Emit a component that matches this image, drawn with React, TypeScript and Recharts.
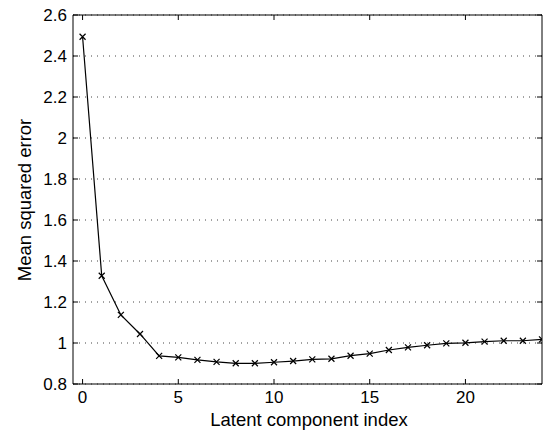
import React from "react";
import { LineChart, Line, XAxis, YAxis, CartesianGrid, Label } from "recharts";

const componentIndex = [0, 1, 2, 3, 4, 5, 6, 7, 8, 9, 10, 11, 12, 13, 14, 15, 16, 17, 18, 19, 20, 21, 22, 23, 24];
const meanSquaredError = [
  2.494, 1.328, 1.137, 1.044, 0.937, 0.93, 0.918, 0.908, 0.901, 0.901, 0.906, 0.912, 0.92, 0.923, 0.938,
  0.948, 0.966, 0.979, 0.989, 0.998, 1.001, 1.007, 1.011, 1.011, 1.018,
];
const xTicks = [0, 5, 10, 15, 20];
const yTicks = [0.8, 1, 1.2, 1.4, 1.6, 1.8, 2, 2.2, 2.4, 2.6];

const data = componentIndex.map((x, i) => ({ x, mse: meanSquaredError[i] }));

const font = "'Liberation Sans', Arial, Helvetica, sans-serif";
const tickStyle = { fill: "#000", fontSize: 17, fontFamily: font };

const CrossDot = (props: any) => {
  const { cx, cy, index } = props;
  if (cx == null || cy == null) return null;
  const s = 3;
  return (
    <path
      key={`dot-${index}`}
      d={`M${cx - s},${cy - s}L${cx + s},${cy + s}M${cx - s},${cy + s}L${cx + s},${cy - s}`}
      stroke="#000"
      strokeWidth={1.2}
      fill="none"
    />
  );
};

export default function App() {
  return (
    <div style={{ position: "absolute", left: 0, top: 0, background: "#fff" }}>
      <LineChart width={544} height={431} data={data} margin={{ top: 0, right: 0, bottom: 0, left: 0 }}>
        <CartesianGrid
          xAxisId="bottom"
          yAxisId="left"
          horizontal
          vertical={false}
          stroke="#444"
          strokeDasharray="1 5"
        />
        <XAxis
          xAxisId="bottom"
          dataKey="x"
          type="number"
          domain={[-0.5, 24]}
          ticks={xTicks}
          allowDataOverflow
          height={47}
          tickSize={-5}
          tickMargin={12}
          stroke="#000"
          tick={tickStyle}
        >
          <Label
            content={() => (
              <text x={309} y={426} textAnchor="middle" fontSize={18.5} fontFamily={font} fill="#000">
                Latent component index
              </text>
            )}
          />
        </XAxis>
        <XAxis
          xAxisId="top"
          orientation="top"
          dataKey="x"
          type="number"
          domain={[-0.5, 24]}
          ticks={xTicks}
          allowDataOverflow
          height={15}
          tickSize={-5}
          tickFormatter={() => ""}
          stroke="#000"
        />
        <YAxis
          yAxisId="left"
          type="number"
          domain={[0.8, 2.6]}
          ticks={yTicks}
          allowDataOverflow
          width={73}
          tickSize={-5}
          tickMargin={11}
          stroke="#000"
          tick={tickStyle}
          tickFormatter={(v: number) => String(v)}
        >
          <Label
            content={() => (
              <text
                x={31}
                y={200}
                transform="rotate(-90 31 200)"
                textAnchor="middle"
                fontSize={18.5}
                fontFamily={font}
                fill="#000"
              >
                Mean squared error
              </text>
            )}
          />
        </YAxis>
        <YAxis
          yAxisId="right"
          orientation="right"
          type="number"
          domain={[0.8, 2.6]}
          ticks={yTicks}
          allowDataOverflow
          width={2}
          tickSize={-5}
          tickFormatter={() => ""}
          stroke="#000"
        />
        <Line
          xAxisId="bottom"
          yAxisId="left"
          dataKey="mse"
          type="linear"
          stroke="#000"
          strokeWidth={1.2}
          dot={CrossDot}
          activeDot={false}
          isAnimationActive={false}
        />
      </LineChart>
    </div>
  );
}
